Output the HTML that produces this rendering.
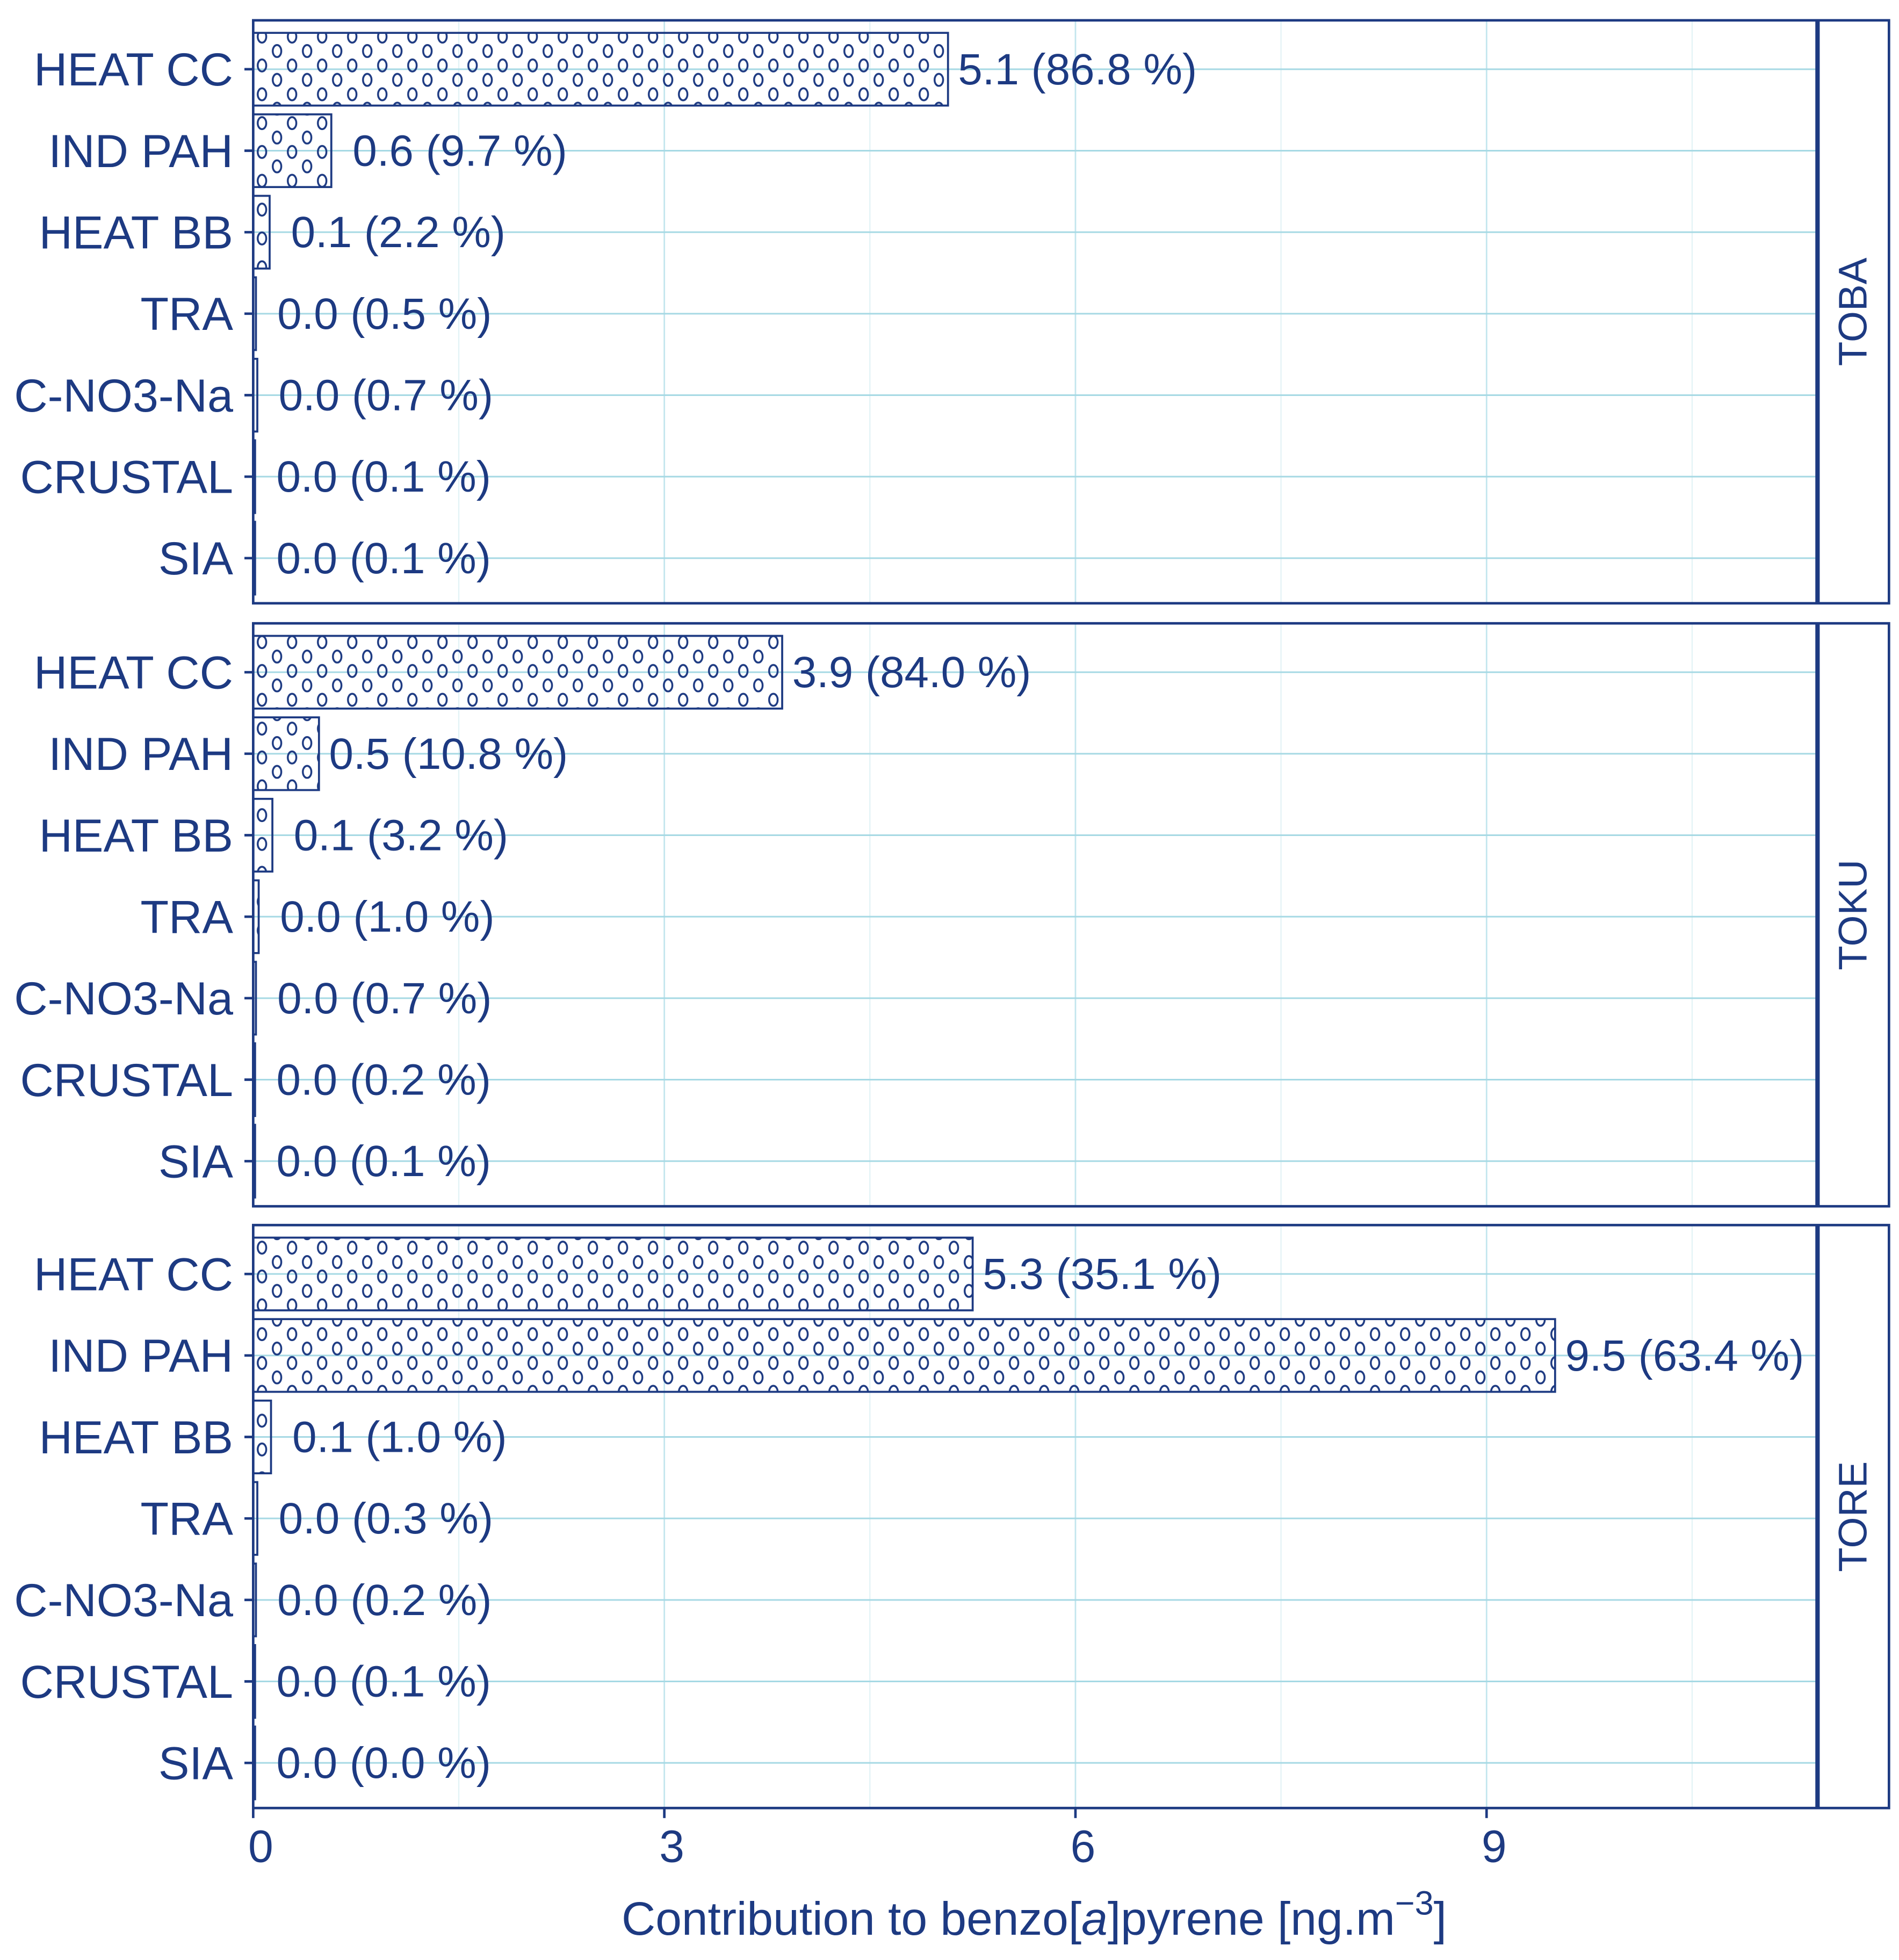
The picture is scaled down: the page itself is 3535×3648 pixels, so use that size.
<!DOCTYPE html>
<html><head><meta charset="utf-8"><style>
html,body{margin:0;padding:0;background:#fff;}
svg{display:block;font-family:"Liberation Sans",sans-serif;}
</style></head><body>
<svg id="chart" width="3535" height="3648" viewBox="0 0 1515 1563" xmlns="http://www.w3.org/2000/svg">
<defs>
<pattern id="dots" patternUnits="userSpaceOnUse" width="24" height="23" x="203" y="0">
<ellipse cx="6" cy="6" rx="3.4" ry="4.8" fill="none" stroke="#1d3a82" stroke-width="1.5"/>
<ellipse cx="18" cy="17.5" rx="3.4" ry="4.8" fill="none" stroke="#1d3a82" stroke-width="1.5"/>
</pattern>
</defs>
<g id="root"></g>
</svg>
<script>
const categories = ["HEAT CC","IND PAH","HEAT BB","TRA","C-NO3-Na","CRUSTAL","SIA"];
const panels = ["TOBA","TOKU","TORE"];
const valuesTOBA = [5.07,0.57,0.12,0.02,0.03,0.005,0.005];
const valuesTOKU = [3.86,0.48,0.14,0.04,0.02,0.005,0.005];
const valuesTORE = [5.25,9.50,0.13,0.03,0.02,0.01,0.003];
const labelsTOBA = ["5.1 (86.8 %)","0.6 (9.7 %)","0.1 (2.2 %)","0.0 (0.5 %)","0.0 (0.7 %)","0.0 (0.1 %)","0.0 (0.1 %)"];
const labelsTOKU = ["3.9 (84.0 %)","0.5 (10.8 %)","0.1 (3.2 %)","0.0 (1.0 %)","0.0 (0.7 %)","0.0 (0.2 %)","0.0 (0.1 %)"];
const labelsTORE = ["5.3 (35.1 %)","9.5 (63.4 %)","0.1 (1.0 %)","0.0 (0.3 %)","0.0 (0.2 %)","0.0 (0.1 %)","0.0 (0.0 %)"];
const xTicks = [0,3,6,9];
const xMinor = [1.5,4.5,7.5,10.5];

const allValues = [valuesTOBA, valuesTOKU, valuesTORE];
const allLabels = [labelsTOBA, labelsTOKU, labelsTORE];
const C = "#1d3a82";
const NS = "http://www.w3.org/2000/svg";
const root = document.getElementById("root");
const X0 = 202, X1 = 1449, XMAX = (1449-202)/109.33;
function xs(v){ return X0 + (X1 - X0) * v / XMAX; }
const panelTop = [16, 497, 977], panelH = 465;
function ys(p, i){ return panelTop[p] + 39 + i * 65; }
function mk(tag, attrs, parent){ const e = document.createElementNS(NS, tag); for (const k in attrs) e.setAttribute(k, attrs[k]); (parent||root).appendChild(e); return e; }

panels.forEach((pn, p) => {
  const g = mk("g", {});
  
  
  const top = panelTop[p], bot = top + panelH;
  xMinor.forEach(v => {
    const l = mk("line", {x1: xs(v), x2: xs(v), y1: top, y2: bot, stroke: "#e3f3f6", "stroke-width": 1}, g);
    
    
  });
  xTicks.forEach(v => {
    const l = mk("line", {x1: xs(v), x2: xs(v), y1: top, y2: bot, stroke: "#c3e6ee", "stroke-width": 1.2}, g);
    
    
  });
  categories.forEach((c, i) => {
    const y = ys(p, i);
    const gl = mk("line", {x1: X0, x2: X1, y1: y, y2: y, stroke: "#a6d9e4", "stroke-width": 1.3}, g);
    
    
    const v = allValues[p][i];
    const w = Math.max(xs(v) - X0, 1.5);
    const bar = mk("rect", {x: X0, y: y - 29, width: w, height: 58, fill: "url(#dots)", stroke: C, "stroke-width": 1.6}, g);
    
    
    const gap = v < 0.3 || (v < 1 && p === 0) ? 17 : 8;
    const t = mk("text", {x: X0 + w + gap, y: y + 12, "font-size": 35, fill: C}, g);
    t.textContent = allLabels[p][i];
    
    
    const tk = mk("line", {x1: 195, x2: 202, y1: y, y2: y, stroke: C, "stroke-width": 2}, g);
    
    
    const lb = mk("text", {x: 186, y: y + 13, "font-size": 37, fill: C, "text-anchor": "end"}, g);
    lb.textContent = c;
    
    
  });
  const fr = mk("rect", {x: 202, y: top, width: 1305, height: panelH, fill: "none", stroke: C, "stroke-width": 2}, g);
  
  
  const sep = mk("line", {x1: 1450, x2: 1450, y1: top, y2: bot, stroke: C, "stroke-width": 3.5}, g);
  
  
  const st = mk("text", {x: 1489, y: top + panelH/2, "font-size": 32, fill: C, "text-anchor": "middle", transform: "rotate(-90 1489 " + (top + panelH/2) + ")"}, g);
  st.textContent = pn;
  
  
});

xTicks.forEach(v => {
  const tk = mk("line", {x1: xs(v), x2: xs(v), y1: 1442, y2: 1450, stroke: C, "stroke-width": 2});
  
  
  const t = mk("text", {x: xs(v) + 6, y: 1485, "font-size": 36, fill: C, "text-anchor": "middle"});
  t.textContent = String(v);
  
  
});

const title = mk("text", {x: 825, y: 1543, "font-size": 37.5, fill: C, "text-anchor": "middle"});


title.innerHTML = 'Contribution to benzo[<tspan font-style="italic">a</tspan>]pyrene [ng.m<tspan dy="-16" font-size="27">\u22123</tspan><tspan dy="16">]</tspan>';
</script>
</body></html>
